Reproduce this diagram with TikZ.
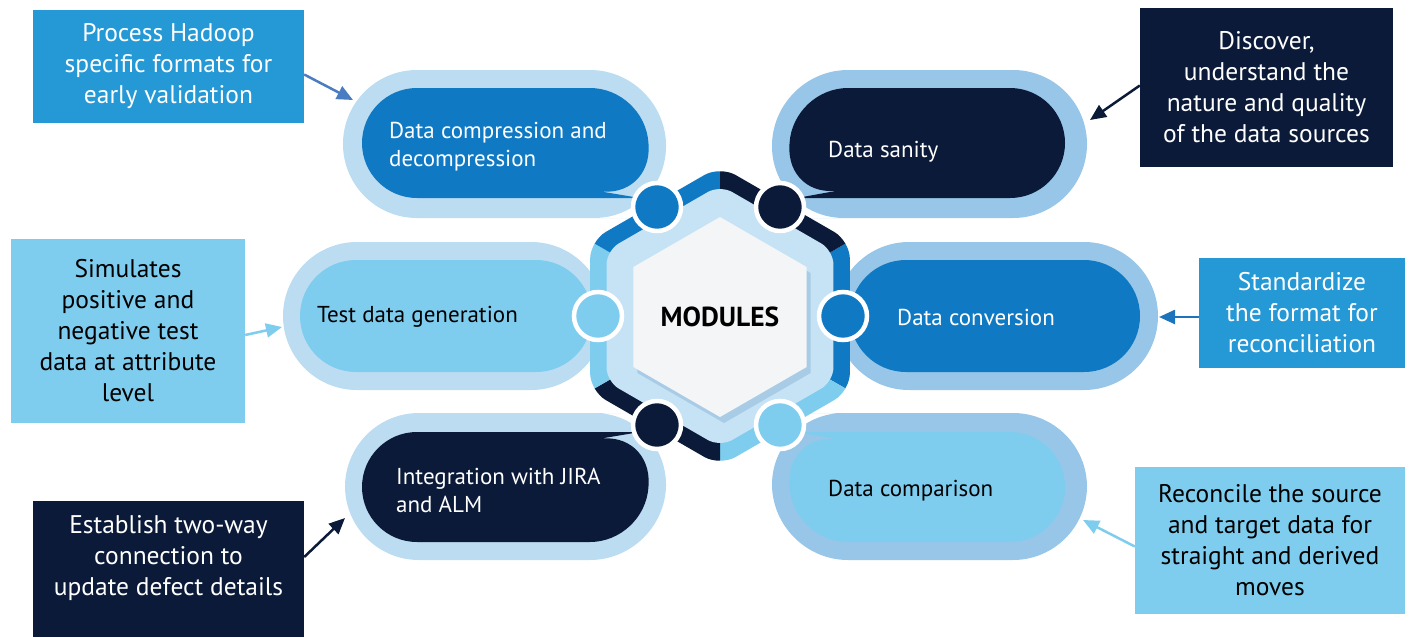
\documentclass[tikz,border=0pt]{standalone}
\usepackage{fontspec}
\setmainfont{PT Sans}
\usetikzlibrary{arrows.meta, shapes.geometric}
\definecolor{navy}{HTML}{0B1A38}
\definecolor{modblue}{HTML}{0F79C3}
\definecolor{boxblue}{HTML}{2598D6}
\definecolor{lightblue}{HTML}{7ECDEF}
\definecolor{halolight}{HTML}{BCDCF1}
\definecolor{halodark}{HTML}{97C6E8}
\definecolor{ringfill}{HTML}{C6E2F5}
\definecolor{hexshadow}{HTML}{A9CCE6}
\definecolor{hexwhite}{HTML}{F3F5F7}
\definecolor{arrowblue}{HTML}{4A7CC2}
\definecolor{convblue}{HTML}{1C74BC}

\begin{document}
\begin{tikzpicture}[x=1pt, y=-1pt,
    callout/.style={rectangle, inner sep=0pt, align=center, font=\fontsize{25.5}{31}\selectfont},
    modtext/.style={anchor=west, align=left, inner sep=0pt, font=\fontsize{23}{28}\selectfont},
    dot/.style={circle, draw=white, line width=4.5pt, minimum size=48pt, inner sep=0pt},
    pointer/.style={-{Triangle[length=16pt,width=14pt]}, line width=2.5pt}]

    \useasboundingbox (0,0) rectangle (1410,637);

    % halos
    \fill[halolight] (660,218) [rounded corners=74] -- (343,218) -- (343,70) -- (664,70) -- (668,218) [sharp corners] -- cycle;
    \fill[halodark] (776,218) [rounded corners=74] -- (1087,218) -- (1087,70) -- (774,70) -- (770,218) [sharp corners] -- cycle;
    \fill[halolight, rounded corners=74] (283,242) rectangle (605,390);
    \fill[halodark, rounded corners=74] (835,242) rectangle (1158,390);
    \fill[halolight] (660,413) [rounded corners=74] -- (345,413) -- (345,560) -- (664,560) -- (668,413) [sharp corners] -- cycle;
    \fill[halodark] (776,413) [rounded corners=74] -- (1087,413) -- (1087,560) -- (774,560) -- (770,413) [sharp corners] -- cycle;

    % petals
    \fill[modblue] (640,198) [rounded corners=55] -- (362,198) -- (362,88) -- (645,88) -- (652,200) [sharp corners] -- cycle;
    \fill[navy] (797,198) [rounded corners=55] -- (1065,198) -- (1065,88) -- (793,88) -- (786,200) [sharp corners] -- cycle;
    \fill[lightblue, rounded corners=56] (300,260) rectangle (592,372);
    \fill[modblue, rounded corners=56] (850,260) rectangle (1140,372);
    \fill[navy] (640,432) [rounded corners=55] -- (362,432) -- (362,542) -- (645,542) -- (652,430) [sharp corners] -- cycle;
    \fill[lightblue] (797,432) [rounded corners=55] -- (1065,432) -- (1065,542) -- (793,542) -- (786,430) [sharp corners] -- cycle;

    % ring round the hexagon
    \begin{scope}[shift={(720,316)}]
        \begin{scope}
            \clip[rounded corners=18] (30:150) -- (90:150) -- (150:150) -- (210:150) -- (270:150) -- (330:150) -- cycle;
            \foreach \a/\c in {0/modblue, 60/lightblue, 120/navy, 180/lightblue, 240/modblue, 300/navy}
                \fill[\c] (0,0) -- (\a-30:170) -- (\a+30:170) -- cycle;
        \end{scope}
        \fill[ringfill, rounded corners=14] (30:131) -- (90:131) -- (150:131) -- (210:131) -- (270:131) -- (330:131) -- cycle;
        \fill[hexshadow, shift={(4,7)}] (30:100) -- (90:100) -- (150:100) -- (210:100) -- (270:100) -- (330:100) -- cycle;
    \end{scope}
    \node[regular polygon, regular polygon sides=6, shape border rotate=30, minimum size=200pt,
        fill=hexwhite, inner sep=0pt, font=\fontsize{27.5}{32}\selectfont\bfseries] (mod) at (720,317) {MODULES};

    % dots
    \node[dot, fill=modblue] (dcomp) at (657,207) {};
    \node[dot, fill=navy] (dsan) at (780,207) {};
    \node[dot, fill=lightblue] (dgen) at (598,316) {};
    \node[dot, fill=modblue] (dconv) at (843,316) {};
    \node[dot, fill=navy] (djira) at (657,425) {};
    \node[dot, fill=lightblue] (dcmp) at (780,425) {};

    % module texts
    \node[modtext, text=white] (comp) at (389,147) {Data compression and\\decompression};
    \node[modtext, text=white] (sanity) at (828,152) {Data sanity};
    \node[modtext] (gen) at (317,317) {Test data generation};
    \node[modtext, text=white] (conv) at (897,317) {Data conversion};
    \node[modtext, text=white] (jira) at (396,490) {Integration with JIRA\\and ALM};
    \node[modtext] (cmp) at (828,491) {Data comparison};

    % callouts
    \node[callout, fill=boxblue, text=white, minimum width=271pt, minimum height=113pt] (hadoop) at (168.5,66.5)
        {Process Hadoop\\specific formats for\\early validation};
    \node[callout, fill=navy, text=white, minimum width=253pt, minimum height=159pt] (discover) at (1266.5,87.5)
        {Discover,\\understand the\\nature and quality\\of the data sources};
    \node[callout, fill=lightblue, minimum width=234pt, minimum height=184pt] (simulate) at (128,331)
        {Simulates\\positive and\\negative test\\data at attribute\\level};
    \node[callout, fill=boxblue, text=white, minimum width=206pt, minimum height=110pt] (standard) at (1302,313)
        {Standardize\\the format for\\reconciliation};
    \node[callout, fill=navy, text=white, minimum width=271pt, minimum height=136pt, text depth=28pt] (establish) at (168.5,569)
        {Establish two-way\\connection to\\update defect details};
    \node[callout, fill=lightblue, minimum width=270pt, minimum height=147pt] (reconcile) at (1270,540.5)
        {Reconcile the source\\and target data for\\straight and derived\\moves};

    % arrow ends
    \coordinate (hadoopTip) at (353,100);
    \coordinate (discoverTip) at (1090,120);
    \coordinate (simulateTip) at (282,327);
    \coordinate (standardTip) at (1159,317);
    \coordinate (establishTip) at (345,518);
    \coordinate (reconcileTip) at (1083,520);

    \draw[pointer, arrowblue] ([yshift=-8pt]hadoop.east) -- (hadoopTip);
    \draw[pointer, navy] ([yshift=2pt]discover.west) -- (discoverTip);
    \draw[pointer, lightblue] ([yshift=-4pt]simulate.east) -- (simulateTip);
    \draw[pointer, convblue] ([yshift=-4pt]standard.west) -- (standardTip);
    \draw[pointer, navy] ([yshift=12pt]establish.east) -- (establishTip);
    \draw[pointer, lightblue] ([yshift=-6pt]reconcile.west) -- (reconcileTip);
\end{tikzpicture}
\end{document}
